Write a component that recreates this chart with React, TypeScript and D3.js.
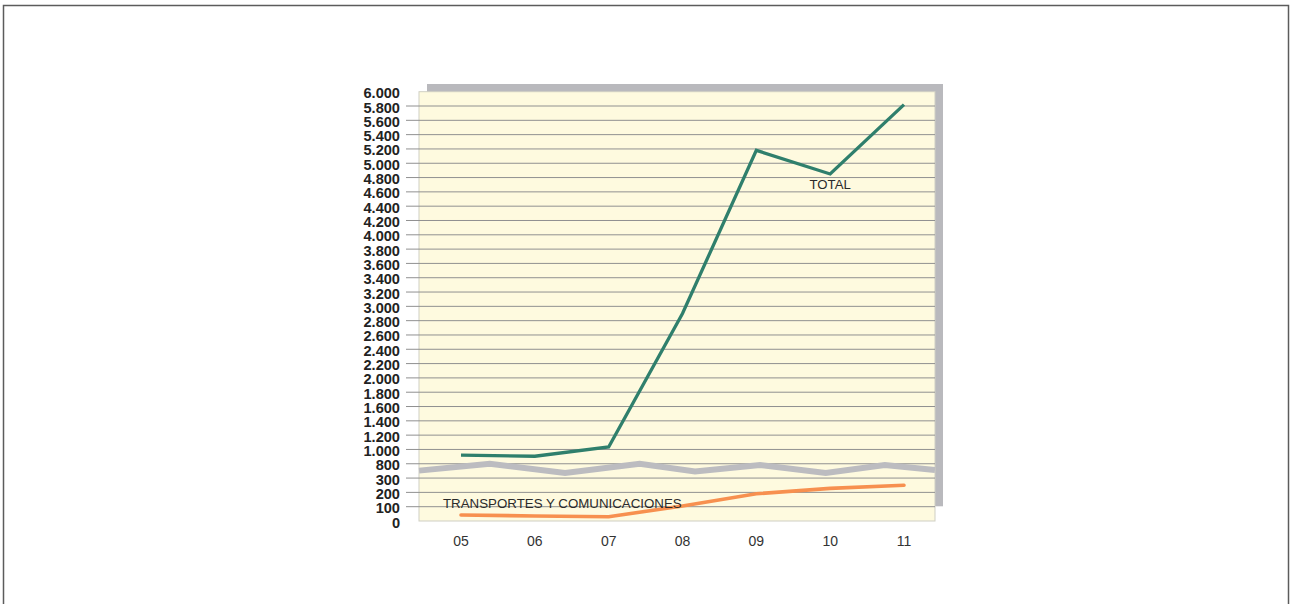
import { useEffect, useRef } from 'react';
import * as d3 from 'd3';

const years = ['05', '06', '07', '08', '09', '10', '11'];
const totalValues = [920, 905, 1035, 2900, 5180, 4850, 5820];
const transportValues = [42, 35, 30, 105, 190, 228, 250];
const yTicks = [
  6000, 5800, 5600, 5400, 5200, 5000, 4800, 4600, 4400, 4200, 4000, 3800, 3600, 3400,
  3200, 3000, 2800, 2600, 2400, 2200, 2000, 1800, 1600, 1400, 1200, 1000, 800, 300, 200, 100, 0,
];
// axis break zigzag: position in category units, value on the broken axis
const breakX = [-0.57, 0.39, 1.41, 2.42, 3.17, 4.05, 4.94, 5.74, 6.42];
const breakY = [560, 800, 475, 800, 530, 760, 475, 760, 580];

const W = 1290;
const H = 604;

export default function App() {
  const svgRef = useRef<SVGSVGElement>(null);

  useEffect(() => {
    if (!svgRef.current) return;
    const svg = d3.select(svgRef.current);
    svg.selectAll('*').remove();

    const plot = { left: 419, right: 935, top: 91.7, bottom: 521 };
    const step = (plot.bottom - plot.top) / 30;
    const yIdx = (i: number) => plot.top + i * step;

    // broken axis: 0-300 in steps of 100, 800-6000 in steps of 200
    const y = d3.scaleLinear()
      .domain([0, 300, 800, 6000])
      .range([yIdx(30), yIdx(27), yIdx(26), yIdx(0)]);
    const x = d3.scaleLinear().domain([0, 6]).range([461, 904]);

    const fmt = d3.formatLocale({ decimal: ',', thousands: '.', grouping: [3], currency: ['', ''] }).format(',');

    // outer frame
    svg.append('rect')
      .attr('x', 3.5).attr('y', 5.5)
      .attr('width', 1285).attr('height', 620)
      .attr('fill', 'none')
      .attr('stroke', '#5c5c5c')
      .attr('stroke-width', 1.5);

    // shadow
    svg.append('rect')
      .attr('x', plot.left + 8).attr('y', plot.top - 7.7)
      .attr('width', plot.right - plot.left).attr('height', plot.bottom - plot.top - 7)
      .attr('fill', '#b9b9bd');

    // plot area
    svg.append('rect')
      .attr('x', plot.left).attr('y', plot.top)
      .attr('width', plot.right - plot.left).attr('height', plot.bottom - plot.top)
      .attr('fill', '#fefadf')
      .attr('stroke', '#cfcfc4')
      .attr('stroke-width', 1);

    // gridlines
    svg.append('g')
      .selectAll('line')
      .data(yTicks.filter(t => t !== 0 && t !== 6000))
      .join('line')
      .attr('x1', 406).attr('x2', plot.right)
      .attr('y1', d => y(d)).attr('y2', d => y(d))
      .attr('stroke', '#909090')
      .attr('stroke-width', 1);

    // y labels
    svg.append('g')
      .selectAll('text')
      .data(yTicks)
      .join('text')
      .attr('x', 400)
      .attr('y', d => y(d) + 6.5)
      .attr('text-anchor', 'end')
      .attr('font-family', 'Liberation Sans, Arial, sans-serif')
      .attr('font-weight', 'bold')
      .attr('font-size', '14.6px')
      .attr('fill', '#222')
      .text(d => fmt(d));

    // x labels
    svg.append('g')
      .selectAll('text')
      .data(years)
      .join('text')
      .attr('x', (_, i) => x(i))
      .attr('y', 546)
      .attr('text-anchor', 'middle')
      .attr('font-family', 'Liberation Sans, Arial, sans-serif')
      .attr('font-size', '14px')
      .attr('fill', '#333')
      .text(d => d);

    // axis break
    const breakLine = d3.line<number>()
      .x((_, i) => Math.max(plot.left, Math.min(plot.right, x(breakX[i]))))
      .y(d => y(d));
    svg.append('path')
      .datum(breakY)
      .attr('fill', 'none')
      .attr('stroke', '#bcbcc0')
      .attr('stroke-width', 6)
      .attr('d', breakLine);

    const line = d3.line<number>()
      .x((_, i) => x(i))
      .y(d => y(d));

    svg.append('path')
      .datum(totalValues)
      .attr('fill', 'none')
      .attr('stroke', '#2f7f6c')
      .attr('stroke-width', 3.3)
      .attr('stroke-linejoin', 'miter')
      .attr('d', line);

    svg.append('path')
      .datum(transportValues)
      .attr('fill', 'none')
      .attr('stroke', '#f7904f')
      .attr('stroke-width', 3.6)
      .attr('stroke-linecap', 'round')
      .attr('d', line);

    // series labels
    svg.append('text')
      .attr('x', x(5))
      .attr('y', y(4640))
      .attr('text-anchor', 'middle')
      .attr('font-family', 'Liberation Sans, Arial, sans-serif')
      .attr('font-size', '13.2px')
      .attr('fill', '#2a2a2a')
      .text('TOTAL');

    svg.append('text')
      .attr('x', x(0) - 18)
      .attr('y', y(88))
      .attr('font-family', 'Liberation Sans, Arial, sans-serif')
      .attr('font-size', '13.3px')
      .attr('fill', '#2a2a2a')
      .text('TRANSPORTES Y COMUNICACIONES');
  }, []);

  return (
    <svg
      ref={svgRef}
      width={W}
      height={H}
      style={{ position: 'absolute', left: 0, top: 0, background: '#fff' }}
    />
  );
}
